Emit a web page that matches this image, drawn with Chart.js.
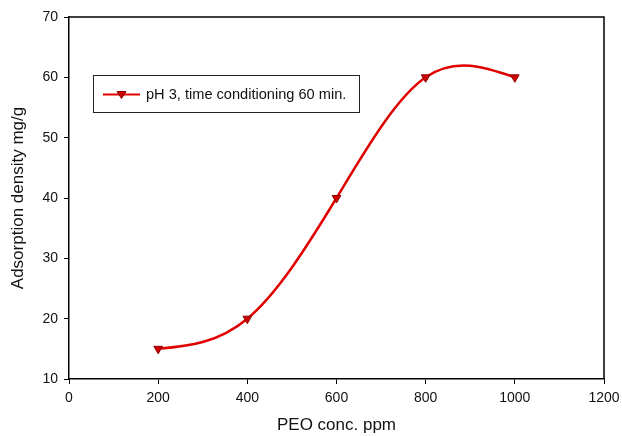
<!DOCTYPE html>
<html>
<head>
<meta charset="utf-8">
<script src="https://cdn.jsdelivr.net/npm/chart.js@4"></script>
<style>
  html, body { margin: 0; padding: 0; background: #fff; }
  #wrap { width: 622px; height: 436px; }
</style>
</head>
<body>
<div id="wrap"><canvas id="peoChart" width="622" height="436"></canvas></div>
<script>
const concPpm = [200, 400, 600, 800, 1000];
const adsorption = [15, 20, 40, 60, 60];
const seriesLabel = 'pH 3, time conditioning 60 min.';
const xTicks = [0, 200, 400, 600, 800, 1000, 1200];
const yTicks = [10, 20, 30, 40, 50, 60, 70];

const FONT = '"Liberation Sans", Arial, sans-serif';

// natural cubic spline second derivatives (data space)
function splineM(xs, ys) {
    const n = xs.length;
    const M = new Array(n).fill(0);
    if (n < 3) return M;
    const a = [], b = [], c = [], d = [];
    for (let i = 1; i < n - 1; i++) {
        const h0 = xs[i] - xs[i - 1], h1 = xs[i + 1] - xs[i];
        a.push(h0); b.push(2 * (h0 + h1)); c.push(h1);
        d.push(6 * ((ys[i + 1] - ys[i]) / h1 - (ys[i] - ys[i - 1]) / h0));
    }
    const m = b.length;
    for (let i = 1; i < m; i++) {
        const w = a[i] / b[i - 1];
        b[i] -= w * c[i - 1];
        d[i] -= w * d[i - 1];
    }
    const sol = new Array(m);
    sol[m - 1] = d[m - 1] / b[m - 1];
    for (let i = m - 2; i >= 0; i--) sol[i] = (d[i] - c[i] * sol[i + 1]) / b[i];
    for (let i = 0; i < m; i++) M[i + 1] = sol[i];
    return M;
}

// smooth line through the points, drawn with the chart's own scales
const splinePlugin = {
    id: 'spline',
    beforeDatasetsDraw(chart) {
        const ds = chart.data.datasets[0];
        const xs = ds.data.map(p => p.x), ys = ds.data.map(p => p.y);
        const M = splineM(xs, ys);
        const sx = chart.scales.x, sy = chart.scales.y;
        const c = chart.ctx;
        c.save();
        c.strokeStyle = ds.borderColor;
        c.lineWidth = 2.5;
        c.lineJoin = 'round';
        c.beginPath();
        c.moveTo(sx.getPixelForValue(xs[0]), sy.getPixelForValue(ys[0]));
        for (let i = 0; i < xs.length - 1; i++) {
            const h = xs[i + 1] - xs[i];
            const sl = (ys[i + 1] - ys[i]) / h;
            const d0 = sl - h * (2 * M[i] + M[i + 1]) / 6;
            const d1 = sl + h * (M[i] + 2 * M[i + 1]) / 6;
            c.bezierCurveTo(
                sx.getPixelForValue(xs[i] + h / 3), sy.getPixelForValue(ys[i] + d0 * h / 3),
                sx.getPixelForValue(xs[i + 1] - h / 3), sy.getPixelForValue(ys[i + 1] - d1 * h / 3),
                sx.getPixelForValue(xs[i + 1]), sy.getPixelForValue(ys[i + 1])
            );
        }
        c.stroke();
        c.restore();
    }
};

// box round the plot area plus the legend drawn inside it
const framePlugin = {
    id: 'frame',
    afterDraw(chart) {
        const c = chart.ctx;
        const a = chart.chartArea;
        c.save();
        c.strokeStyle = '#000';
        c.lineWidth = 1.5;
        c.beginPath();
        c.moveTo(a.left, a.top);
        c.lineTo(a.right, a.top);
        c.lineTo(a.right, a.bottom);
        c.stroke();

        const ds = chart.data.datasets[0];
        const bx = 93, by = 75, bw = 266, bh = 37;
        c.lineWidth = 1;
        c.strokeStyle = '#222';
        c.fillStyle = '#fff';
        c.fillRect(bx, by, bw, bh);
        c.strokeRect(bx + 0.5, by + 0.5, bw, bh);
        const ly = by + bh / 2 + 1;
        c.strokeStyle = ds.borderColor;
        c.lineWidth = 2;
        c.beginPath();
        c.moveTo(103, ly);
        c.lineTo(140, ly);
        c.stroke();
        c.fillStyle = ds.pointBackgroundColor;
        c.strokeStyle = ds.pointBorderColor;
        c.lineWidth = 1;
        c.beginPath();
        c.moveTo(117, ly - 3);
        c.lineTo(126, ly - 3);
        c.lineTo(121.5, ly + 4);
        c.closePath();
        c.fill();
        c.stroke();
        c.fillStyle = '#111';
        c.font = '14.6px ' + FONT;
        c.textBaseline = 'middle';
        c.fillText(ds.label, 146, ly);
        c.restore();
    }
};

document.addEventListener('DOMContentLoaded', function () {
    const ctx = document.getElementById('peoChart').getContext('2d');
    new Chart(ctx, {
        type: 'line',
        data: {
            datasets: [{
                label: seriesLabel,
                data: concPpm.map((x, i) => ({ x: x, y: adsorption[i] })),
                borderColor: '#e00000',
                showLine: false,
                pointStyle: 'triangle',
                rotation: 180,
                pointRadius: 5,
                pointBackgroundColor: '#d00000',
                pointBorderColor: '#8b0000',
                pointBorderWidth: 1,
                fill: false
            }]
        },
        options: {
            responsive: false,
            animation: false,
            layout: { padding: { top: 17, right: 18, left: 0, bottom: 0 } },
            plugins: {
                legend: { display: false },
                tooltip: { enabled: false }
            },
            scales: {
                x: {
                    type: 'linear',
                    min: 0,
                    max: 1200,
                    afterBuildTicks: function (axis) {
                        axis.ticks = xTicks.map(v => ({ value: v }));
                    },
                    afterFit: function (axis) {
                        axis.height = 57;
                        axis.paddingLeft = 0;
                        axis.paddingRight = 0;
                    },
                    border: { color: '#000', width: 1.5 },
                    grid: { drawOnChartArea: false, tickLength: 5, color: '#000', lineWidth: 1 },
                    ticks: {
                        color: '#111',
                        font: { family: FONT, size: 14 },
                        padding: 6,
                        callback: v => String(v)
                    },
                    title: {
                        display: true,
                        text: 'PEO conc. ppm',
                        color: '#111',
                        font: { family: FONT, size: 17 },
                        padding: { top: 15, bottom: 0 }
                    }
                },
                y: {
                    min: 10,
                    max: 70,
                    afterBuildTicks: function (axis) {
                        axis.ticks = yTicks.map(v => ({ value: v }));
                    },
                    afterFit: function (axis) {
                        axis.width = 69;
                        axis.paddingTop = 0;
                        axis.paddingBottom = 0;
                    },
                    border: { color: '#000', width: 1.5 },
                    grid: { drawOnChartArea: false, tickLength: 5, color: '#000', lineWidth: 1 },
                    ticks: {
                        color: '#111',
                        font: { family: FONT, size: 14 },
                        padding: 6,
                        callback: v => String(v)
                    },
                    title: {
                        display: true,
                        text: 'Adsorption density mg/g',
                        color: '#111',
                        font: { family: FONT, size: 17 },
                        padding: { top: 8, bottom: 4 }
                    }
                }
            }
        },
        plugins: [splinePlugin, framePlugin]
    });
});
</script>
</body>
</html>
